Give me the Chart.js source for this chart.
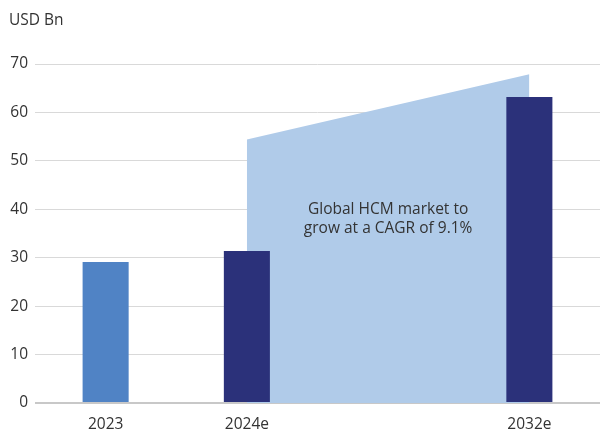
<!DOCTYPE html>
<html>
<head>
<meta charset="utf-8">
<script src="https://cdn.jsdelivr.net/npm/chart.js@4"></script>
<style>
  html, body { margin: 0; padding: 0; background: #fff; }
  #wrap { width: 600px; height: 432px; }
</style>
</head>
<body>
<div id="wrap"><canvas id="chart"></canvas></div>
<script>
// ── Data ─────────────────────────────────────────────────

const years       = ["2023", "2024e", "", "2032e"];
const marketSize  = [29.1, 31.4, null, 63.2];   // USD Bn
const growthBand  = [null, 54.4, null, 67.9];   // shaded CAGR wedge
const yTicks      = [0, 10, 20, 30, 40, 50, 60, 70];
const unitLabel   = "USD Bn";
const noteLines   = ["Global HCM market to", "grow at a CAGR of 9.1%"];
const notePos     = { index: 2, value: 37.9 };

const barColors = ["#5083C5", "#2B317A", "#2B317A", "#2B317A"];
const FONT = "'Open Sans', sans-serif";
const FSIZE = 15.5;

// ── Text overlay ─────────────────────────────────────────

const textPlugin = {
  id: "textOverlay",
  afterDraw(chart) {
    const ctx = chart.ctx;
    const { x, y } = chart.scales;
    ctx.save();
    ctx.fillStyle = "#333";
    ctx.font = FSIZE + "px " + FONT;
    ctx.textBaseline = "middle";

    ctx.textAlign = "left";
    ctx.fillText(unitLabel, 9, 21);

    ctx.textAlign = "center";
    const cx = x.getPixelForValue(notePos.index);
    const cy = y.getPixelForValue(notePos.value);
    ctx.fillText(noteLines[0], cx, cy - 9.5);
    ctx.fillText(noteLines[1], cx, cy + 9.5);
    ctx.restore();
  }
};

// ── Chart ────────────────────────────────────────────────

new Chart(document.getElementById("chart"), {
  type: "bar",
  data: {
    labels: years,
    datasets: [
      {
        type: "bar",
        data: marketSize,
        backgroundColor: barColors,
        barPercentage: 0.326,
        categoryPercentage: 1,
        order: 1
      },
      {
        type: "line",
        data: growthBand,
        spanGaps: true,
        tension: 0,
        borderWidth: 0,
        borderColor: "rgba(0,0,0,0)",
        backgroundColor: "#B0CBE9",
        pointRadius: 0,
        fill: "origin",
        order: 2
      }
    ]
  },
  options: {
    responsive: true,
    maintainAspectRatio: false,
    animation: false,
    layout: { padding: { top: 64, right: 0, left: 0, bottom: 0 } },
    plugins: {
      legend: { display: false },
      tooltip: { enabled: false }
    },
    scales: {
      x: {
        grid: { display: false },
        border: { display: false },
        ticks: { color: "#333", font: { family: FONT, size: FSIZE }, padding: 4 },
        afterFit: (s) => { s.height = 29; }
      },
      y: {
        min: 0,
        max: 70,
        afterBuildTicks: (s) => { s.ticks = yTicks.map(v => ({ value: v })); },
        border: { display: false },
        grid: {
          drawTicks: false,
          color: (c) => c.tick && c.tick.value === 0 ? "#C8C8C8" : "#D9D9D9",
          lineWidth: (c) => c.tick && c.tick.value === 0 ? 2 : 1
        },
        ticks: { color: "#333", font: { family: FONT, size: FSIZE }, padding: 7 },
        afterFit: (s) => { s.width = 35; }
      }
    }
  },
  plugins: [textPlugin]
});
</script>
</body>
</html>
